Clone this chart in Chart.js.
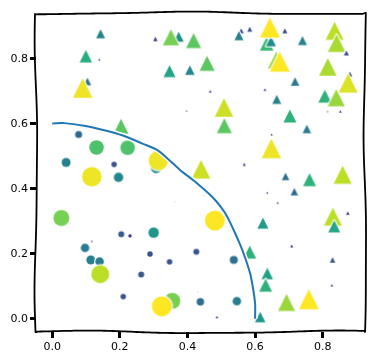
<!DOCTYPE html>
<html><head><meta charset="utf-8">
<script src="https://cdn.jsdelivr.net/npm/chart.js@4"></script>
<style>html,body{margin:0;padding:0;background:#fff}#wrap{width:378px;height:363px;position:relative}</style>
</head><body><div id="wrap"><canvas id="c"></canvas></div>
<script>
// scatter points
const xs = [0.143,0.305,0.374,0.351,0.418,0.0995,0.139,0.347,0.407,0.104,0.090,0.397,0.2035,0.559,0.584,0.552,0.634,0.647,0.644,0.688,0.740,0.835,0.841,0.870,0.458,0.663,0.673,0.718,0.815,0.880,0.875,0.467,0.629,0.664,0.806,0.840,0.814,0.852,0.508,0.703,0.509,0.753,0.649,0.648,0.568,0.440,0.690,0.761,0.859,0.636,0.716,0.667,0.874,0.830,0.834,0.623,0.708,0.584,0.829,0.636,0.631,0.827,0.693,0.759,0.615,
  0.078,0.131,0.223,0.041,0.183,0.307,0.314,0.117,0.196,0.481,0.426,0.537,0.438,0.546,0.487,0.446,0.431,0.027,0.204,0.230,0.300,0.117,0.097,0.114,0.140,0.142,0.289,0.347,0.263,0.363,0.210,0.355,0.324];
const ys = [0.877,0.861,0.868,0.866,0.856,0.808,0.798,0.762,0.765,0.730,0.710,0.640,0.592,0.886,0.891,0.871,0.846,0.854,0.896,0.886,0.856,0.886,0.848,0.818,0.786,0.796,0.791,0.730,0.775,0.753,0.725,0.700,0.705,0.675,0.685,0.680,0.638,0.638,0.650,0.624,0.594,0.584,0.567,0.524,0.475,0.460,0.438,0.428,0.443,0.388,0.391,0.357,0.325,0.314,0.284,0.294,0.224,0.205,0.181,0.139,0.103,0.103,0.050,0.060,0.005,
  0.567,0.527,0.526,0.481,0.475,0.463,0.487,0.437,0.435,0.302,0.206,0.181,0.052,0.054,0.004,0.378,0.083,0.310,0.260,0.255,0.265,0.238,0.218,0.181,0.176,0.137,0.199,0.175,0.136,0.360,0.068,0.055,0.038];
const cs = [9,4.5,10,16,15,12.5,2,12,9.5,7.5,19.5,1.5,15,5,5,9,13.5,10,20,5,9,18,17.5,5,15,17,20,8.5,17.5,5,19,2.5,2.5,9,13,17,1.5,2.5,18.5,13,15,8.5,2,19.5,3,18.5,7.5,13,18,2,7.5,2,3.5,18,12,11,3,13,5.5,11.5,13,2.5,17,20,10.5,
  7,14.5,14.5,9,5.5,10,19.5,19.5,9.5,20,6,8,7.5,8.5,2,0.5,0.5,16,6,3.5,10.5,1.5,8.5,9,8.5,18,5.5,5.5,6,0.5,5.5,16,20];
const r0 = 0.6;
// boundary curve
const curveX = [0.0,0.036,0.094,0.151,0.209,0.267,0.311,0.340,0.378,0.427,0.475,0.513,0.552,0.571,0.586,0.595,0.600,0.600];
const curveY = [0.601,0.602,0.594,0.581,0.564,0.539,0.519,0.494,0.458,0.418,0.373,0.322,0.237,0.186,0.136,0.086,0.045,0.0];
const xTicks = [0.0,0.2,0.4,0.6,0.8];
const yTicks = [0.0,0.2,0.4,0.6,0.8];

const VIR = ['#440154','#482475','#414487','#355f8d','#2a788e','#21918c','#22a884','#44bf70','#7ad151','#bddf26','#fde725'];
function hex(h){return [parseInt(h.slice(1,3),16),parseInt(h.slice(3,5),16),parseInt(h.slice(5,7),16)];}
function viridis(t){
  t=Math.max(0,Math.min(1,t));
  const p=t*(VIR.length-1), i=Math.min(Math.floor(p),VIR.length-2), f=p-i;
  const a=hex(VIR[i]), b=hex(VIR[i+1]);
  return 'rgb('+a.map((v,k)=>Math.round(v+(b[k]-v)*f)).join(',')+')';
}
const cmin=Math.min(...cs), cmax=Math.max(...cs);
function markerCanvas(shape,d,color){
  const halo=2.5, W=Math.ceil(d+halo+2);
  const cv=document.createElement('canvas'); cv.width=W; cv.height=W;
  const g=cv.getContext('2d'); const cx=W/2, cy=W/2;
  g.beginPath();
  if(shape==='tri'){g.moveTo(cx,cy-d/2);g.lineTo(cx-d/2,cy+d/2);g.lineTo(cx+d/2,cy+d/2);g.closePath();}
  else g.arc(cx,cy,Math.max(d/2,0.3),0,Math.PI*2);
  g.lineJoin='round'; g.lineWidth=halo; g.strokeStyle='rgba(255,255,255,0.85)'; g.stroke();
  g.fillStyle=color; g.fill();
  return cv;
}
const tri={data:[],style:[],rad:[]}, cir={data:[],style:[],rad:[]};
for(let i=0;i<xs.length;i++){
  const r=Math.sqrt(xs[i]*xs[i]+ys[i]*ys[i]);
  const tgt = r>=r0 ? tri : cir;
  const col=viridis((cs[i]-cmin)/(cmax-cmin));
  tgt.data.push({x:xs[i],y:ys[i]});
  tgt.style.push(markerCanvas(r>=r0?'tri':'cir',cs[i],col));
  tgt.rad.push(cs[i]/2+2);
}
const curve=curveX.map((x,i)=>({x:x,y:curveY[i]}));

const framePlugin={id:'frame',afterDraw(chart){
  const a=chart.chartArea, g=chart.ctx;
  const wob=(t,p)=>1.2*Math.sin(t/42+p)+0.3*Math.sin(t/19+p*2);
  g.save(); g.strokeStyle='#000'; g.lineWidth=1.8; g.lineJoin='round';
  g.beginPath();
  for(let x=a.left;x<=a.right;x+=3){const y=a.top+wob(x,0.3); x===a.left?g.moveTo(x,y):g.lineTo(x,y);} g.lineTo(a.right,a.top);
  for(let y=a.top;y<=a.bottom;y+=3){g.lineTo(a.right+wob(y,1.7),y);} g.lineTo(a.right,a.bottom);
  for(let x=a.right;x>=a.left;x-=3){g.lineTo(x,a.bottom+wob(x,2.9));} g.lineTo(a.left,a.bottom);
  for(let y=a.bottom;y>=a.top;y-=3){g.lineTo(a.left+wob(y,4.1),y);} g.closePath();
  g.stroke(); g.restore();
}};

const tickFont={family:'DejaVu Sans',size:11};
new Chart(document.getElementById('c'),{
  type:'scatter',
  data:{datasets:[
    {data:curve,showLine:true,borderColor:'#1f77b4',borderWidth:2,pointRadius:0,tension:0.3,order:0},
    {data:curve,showLine:true,borderColor:'#ffffff',borderWidth:5,pointRadius:0,tension:0.3,order:1},
    {data:cir.data,pointStyle:cir.style,pointRadius:cir.rad,order:2},
    {data:tri.data,pointStyle:tri.style,pointRadius:tri.rad,order:3}
  ]},
  options:{
    responsive:true,maintainAspectRatio:false,animation:false,
    layout:{padding:{top:7,right:6,left:0,bottom:0}},
    plugins:{legend:{display:false},tooltip:{enabled:false}},
    scales:{
      x:{type:'linear',min:-0.048,max:0.925,
        afterFit(s){s.height=31;},
        afterBuildTicks(s){s.ticks=xTicks.map(v=>({value:v}));},
        grid:{drawOnChartArea:false,drawTicks:true,tickLength:6,tickWidth:3,tickColor:'#000'},
        border:{display:false},
        ticks:{color:'#000',font:tickFont,padding:3,maxRotation:0,autoSkip:false,callback:v=>Number(v).toFixed(1)}},
      y:{type:'linear',min:-0.041,max:0.941,
        afterFit(s){s.width=36;},
        afterBuildTicks(s){s.ticks=yTicks.map(v=>({value:v}));},
        grid:{drawOnChartArea:false,drawTicks:true,tickLength:6,tickWidth:3,tickColor:'#000'},
        border:{display:false},
        ticks:{color:'#000',font:tickFont,padding:2,autoSkip:false,callback:v=>Number(v).toFixed(1)}}
    }
  },
  plugins:[framePlugin]
});
</script></body></html>
